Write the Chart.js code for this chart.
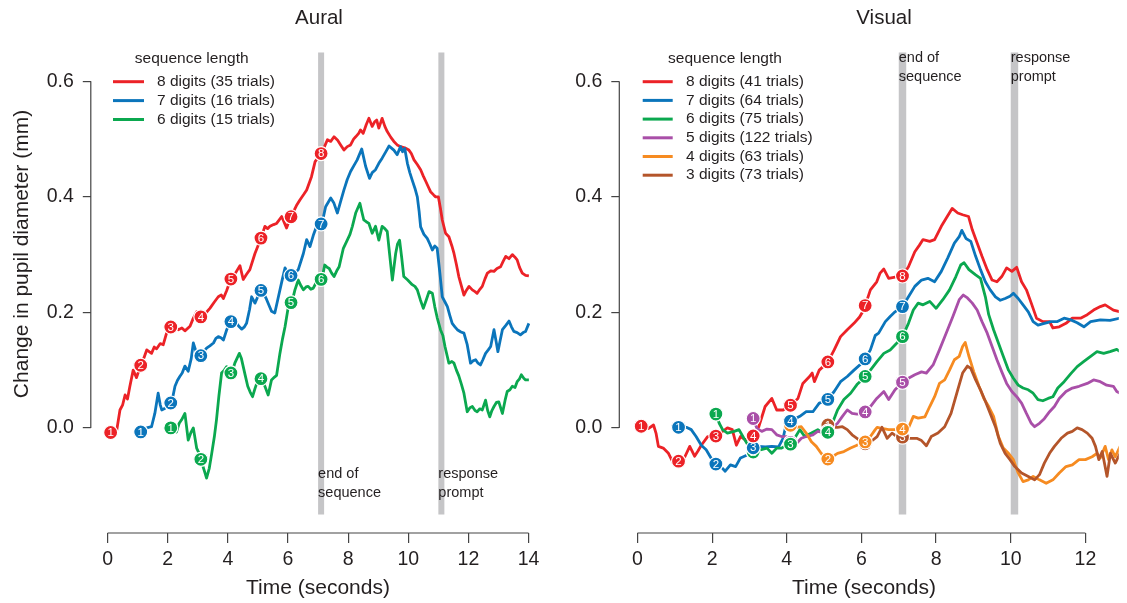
<!DOCTYPE html>
<html>
<head>
<meta charset="utf-8">
<script src="https://cdn.jsdelivr.net/npm/chart.js@4.4.1/dist/chart.umd.min.js"></script>
<style>
  html, body { margin: 0; padding: 0; background: #fff; }
  #wrap { position: relative; width: 1127px; height: 603px; overflow: hidden; }
  #auralChart { position: absolute; left: 0; top: 0; }
  #visualChart { position: absolute; left: 563px; top: 0; }
</style>
</head>
<body>
<div id="wrap">
  <canvas id="auralChart" width="563" height="603"></canvas>
  <canvas id="visualChart" width="564" height="603"></canvas>
</div>
<script>
// digit presentation times (s); a sequence of n digits uses the last n
const digitOnsets = [0.1, 1.1, 2.1, 3.1, 4.1, 5.1, 6.1, 7.1];
const yTickValues = [0, 0.2, 0.4, 0.6];
const auralTicks = [0, 2, 4, 6, 8, 10, 12, 14];
const visualTicks = [0, 2, 4, 6, 8, 10, 12];
const auralEvents = [7.0, 11.0];
const visualEvents = [7.0, 10.0];
const eventLabels = [['end of', 'sequence'], ['response', 'prompt']];
const auralDigits = [8, 7, 6];
const visualDigits = [8, 7, 6, 5, 4, 3];
const auralLegend = ['8 digits (35 trials)', '7 digits (16 trials)', '6 digits (15 trials)'];
const visualLegend = ['8 digits (41 trials)', '7 digits (64 trials)', '6 digits (75 trials)',
  '5 digits (122 trials)', '4 digits (63 trials)', '3 digits (73 trials)'];

// Aural traces [time, change in pupil diameter]
const aural8 = [[0.10,-0.008],[0.30,-0.005],[0.41,0.031],[0.50,0.040],[0.58,0.057],[0.66,0.050],[0.74,0.072],[0.85,0.100],[0.96,0.087],[1.11,0.110],[1.20,0.120],[1.30,0.135],[1.46,0.129],[1.55,0.140],[1.63,0.137],[1.75,0.146],[1.85,0.144],[1.96,0.164],[2.13,0.177],[2.25,0.175],[2.35,0.170],[2.47,0.173],[2.57,0.168],[2.74,0.176],[2.85,0.190],[2.96,0.201],[3.05,0.196],[3.13,0.190],[3.25,0.198],[3.40,0.207],[3.55,0.218],[3.68,0.227],[3.78,0.230],[3.85,0.224],[3.96,0.238],[4.09,0.257],[4.25,0.268],[4.40,0.281],[4.51,0.257],[4.62,0.266],[4.73,0.274],[4.90,0.302],[5.09,0.327],[5.23,0.349],[5.32,0.345],[5.40,0.349],[5.52,0.352],[5.62,0.354],[5.79,0.366],[5.88,0.355],[5.95,0.346],[6.05,0.360],[6.14,0.370],[6.28,0.385],[6.40,0.395],[6.52,0.404],[6.62,0.412],[6.78,0.435],[6.90,0.461],[7.00,0.468],[7.13,0.477],[7.31,0.499],[7.42,0.496],[7.53,0.504],[7.65,0.498],[7.75,0.490],[7.86,0.481],[7.97,0.487],[8.08,0.490],[8.18,0.500],[8.25,0.504],[8.35,0.510],[8.41,0.516],[8.50,0.510],[8.60,0.525],[8.69,0.536],[8.80,0.522],[8.88,0.530],[8.95,0.533],[9.02,0.519],[9.13,0.536],[9.22,0.522],[9.30,0.513],[9.42,0.503],[9.52,0.496],[9.63,0.490],[9.74,0.487],[9.88,0.485],[10.02,0.481],[10.10,0.475],[10.19,0.464],[10.30,0.456],[10.41,0.447],[10.50,0.436],[10.58,0.427],[10.66,0.418],[10.74,0.409],[10.85,0.403],[10.91,0.400],[11.00,0.400],[11.07,0.380],[11.13,0.360],[11.24,0.337],[11.35,0.331],[11.45,0.315],[11.52,0.302],[11.60,0.283],[11.68,0.262],[11.77,0.245],[11.85,0.230],[11.93,0.238],[12.02,0.245],[12.13,0.239],[12.22,0.236],[12.29,0.233],[12.38,0.240],[12.46,0.245],[12.55,0.258],[12.63,0.268],[12.75,0.272],[12.85,0.271],[12.95,0.276],[13.07,0.279],[13.15,0.288],[13.24,0.297],[13.35,0.293],[13.46,0.300],[13.54,0.296],[13.62,0.291],[13.70,0.278],[13.79,0.268],[13.90,0.264],[14.01,0.263]];
const aural7 = [[1.11,-0.007],[1.30,0.000],[1.46,0.002],[1.57,0.025],[1.68,0.060],[1.75,0.040],[1.80,0.031],[1.91,0.034],[2.00,0.040],[2.13,0.044],[2.24,0.072],[2.32,0.082],[2.40,0.089],[2.48,0.095],[2.57,0.107],[2.68,0.098],[2.78,0.120],[2.85,0.147],[2.96,0.129],[3.10,0.125],[3.20,0.132],[3.29,0.138],[3.40,0.142],[3.52,0.147],[3.60,0.155],[3.68,0.158],[3.77,0.156],[3.85,0.152],[3.96,0.170],[4.10,0.184],[4.20,0.185],[4.29,0.181],[4.38,0.175],[4.46,0.171],[4.55,0.175],[4.62,0.181],[4.72,0.205],[4.79,0.227],[4.90,0.216],[5.00,0.228],[5.12,0.240],[5.20,0.232],[5.29,0.222],[5.37,0.212],[5.45,0.202],[5.56,0.199],[5.68,0.227],[5.80,0.255],[5.90,0.277],[6.00,0.268],[6.12,0.263],[6.22,0.268],[6.34,0.274],[6.45,0.292],[6.51,0.302],[6.62,0.326],[6.73,0.314],[6.85,0.335],[6.95,0.349],[7.13,0.354],[7.25,0.383],[7.42,0.398],[7.52,0.390],[7.64,0.372],[7.75,0.392],[7.86,0.412],[7.97,0.430],[8.08,0.444],[8.20,0.455],[8.30,0.464],[8.45,0.483],[8.58,0.453],[8.71,0.432],[8.80,0.442],[8.91,0.447],[9.02,0.458],[9.13,0.467],[9.25,0.478],[9.36,0.488],[9.45,0.484],[9.52,0.481],[9.63,0.473],[9.74,0.487],[9.81,0.478],[9.88,0.484],[9.97,0.458],[10.05,0.442],[10.13,0.429],[10.22,0.415],[10.30,0.400],[10.36,0.375],[10.41,0.348],[10.52,0.335],[10.63,0.328],[10.72,0.318],[10.80,0.308],[10.88,0.315],[10.96,0.311],[11.05,0.268],[11.13,0.227],[11.22,0.218],[11.30,0.210],[11.38,0.195],[11.46,0.181],[11.55,0.175],[11.63,0.170],[11.75,0.166],[11.85,0.164],[11.96,0.144],[12.07,0.112],[12.15,0.116],[12.24,0.118],[12.32,0.112],[12.40,0.109],[12.48,0.118],[12.57,0.129],[12.66,0.135],[12.74,0.141],[12.85,0.170],[12.92,0.150],[12.98,0.132],[13.05,0.150],[13.13,0.170],[13.25,0.178],[13.35,0.185],[13.43,0.175],[13.51,0.167],[13.62,0.165],[13.73,0.161],[13.82,0.165],[13.90,0.167],[14.01,0.181]];
const aural6 = [[2.11,0.000],[2.20,0.003],[2.29,-0.007],[2.38,0.008],[2.46,0.014],[2.57,0.025],[2.68,-0.021],[2.77,-0.008],[2.85,0.000],[2.96,-0.035],[3.05,-0.045],[3.13,-0.060],[3.22,-0.075],[3.29,-0.087],[3.38,-0.070],[3.46,-0.045],[3.55,-0.015],[3.62,0.014],[3.70,0.055],[3.79,0.095],[3.88,0.100],[3.96,0.106],[4.05,0.098],[4.12,0.094],[4.23,0.112],[4.38,0.129],[4.45,0.120],[4.51,0.106],[4.58,0.090],[4.66,0.072],[4.74,0.062],[4.82,0.054],[4.90,0.068],[4.96,0.077],[5.05,0.083],[5.12,0.086],[5.23,0.072],[5.34,0.057],[5.45,0.083],[5.55,0.088],[5.62,0.091],[5.73,0.129],[5.82,0.155],[5.90,0.175],[6.01,0.210],[6.14,0.220],[6.23,0.239],[6.34,0.256],[6.43,0.246],[6.51,0.239],[6.60,0.244],[6.67,0.245],[6.76,0.240],[6.84,0.242],[6.95,0.253],[7.13,0.258],[7.22,0.282],[7.30,0.278],[7.37,0.276],[7.45,0.268],[7.53,0.262],[7.62,0.272],[7.70,0.279],[7.84,0.311],[7.97,0.325],[8.06,0.335],[8.14,0.349],[8.25,0.372],[8.39,0.389],[8.45,0.375],[8.52,0.360],[8.60,0.357],[8.69,0.354],[8.80,0.337],[8.91,0.349],[9.02,0.325],[9.13,0.349],[9.22,0.345],[9.30,0.340],[9.38,0.300],[9.47,0.256],[9.58,0.302],[9.64,0.318],[9.71,0.325],[9.78,0.295],[9.85,0.262],[9.98,0.256],[10.13,0.248],[10.22,0.245],[10.30,0.239],[10.40,0.222],[10.50,0.207],[10.60,0.222],[10.69,0.236],[10.80,0.233],[10.88,0.210],[10.96,0.191],[11.07,0.170],[11.15,0.160],[11.22,0.141],[11.35,0.112],[11.45,0.115],[11.52,0.112],[11.60,0.100],[11.68,0.090],[11.77,0.075],[11.85,0.060],[11.96,0.028],[12.05,0.035],[12.13,0.037],[12.22,0.030],[12.29,0.028],[12.38,0.033],[12.46,0.031],[12.57,0.048],[12.64,0.030],[12.71,0.019],[12.78,0.030],[12.85,0.037],[12.93,0.044],[13.01,0.045],[13.13,0.025],[13.22,0.048],[13.29,0.063],[13.38,0.066],[13.46,0.072],[13.55,0.070],[13.62,0.080],[13.70,0.085],[13.76,0.092],[13.84,0.086],[13.90,0.083],[14.01,0.083]];

// Visual traces
const visual8 = [[0.08,0.003],[0.20,0.002],[0.30,-0.001],[0.43,0.005],[0.50,-0.010],[0.56,-0.032],[0.69,-0.035],[0.83,-0.044],[0.96,-0.061],[1.09,-0.058],[1.18,-0.055],[1.27,-0.050],[1.40,-0.032],[1.53,-0.049],[1.62,-0.040],[1.71,-0.030],[1.88,-0.015],[2.08,-0.015],[2.28,-0.006],[2.41,0.000],[2.54,-0.003],[2.65,-0.030],[2.76,-0.015],[2.90,-0.021],[3.09,-0.015],[3.25,0.002],[3.42,0.037],[3.60,0.051],[3.73,0.031],[3.90,0.031],[4.08,0.038],[4.30,0.051],[4.43,0.077],[4.61,0.089],[4.68,0.095],[4.74,0.080],[4.87,0.100],[5.09,0.113],[5.27,0.135],[5.44,0.158],[5.62,0.170],[5.80,0.181],[5.95,0.192],[6.06,0.204],[6.24,0.239],[6.41,0.253],[6.50,0.268],[6.60,0.275],[6.73,0.259],[6.90,0.261],[7.10,0.263],[7.26,0.279],[7.43,0.305],[7.55,0.316],[7.65,0.326],[7.83,0.323],[7.96,0.326],[8.14,0.349],[8.27,0.363],[8.43,0.380],[8.58,0.372],[8.71,0.369],[8.87,0.366],[8.97,0.343],[9.10,0.320],[9.23,0.297],[9.37,0.274],[9.50,0.256],[9.63,0.253],[9.76,0.262],[9.89,0.277],[10.03,0.271],[10.16,0.278],[10.29,0.253],[10.42,0.239],[10.55,0.216],[10.69,0.190],[10.86,0.184],[11.04,0.184],[11.13,0.173],[11.30,0.175],[11.48,0.181],[11.65,0.190],[11.87,0.190],[12.05,0.196],[12.22,0.204],[12.40,0.210],[12.53,0.213],[12.75,0.204],[12.93,0.201]];
const visual7 = [[1.09,0.001],[1.31,0.001],[1.44,-0.003],[1.57,-0.015],[1.71,-0.030],[1.84,-0.038],[1.97,-0.052],[2.08,-0.062],[2.23,-0.067],[2.35,-0.075],[2.49,-0.064],[2.63,-0.067],[2.76,-0.052],[2.94,-0.047],[3.07,-0.035],[3.25,-0.032],[3.42,-0.033],[3.60,-0.032],[3.78,-0.033],[3.90,-0.018],[3.99,0.008],[4.17,0.014],[4.35,0.020],[4.52,0.028],[4.70,0.028],[4.87,0.043],[5.07,0.047],[5.27,0.063],[5.44,0.080],[5.62,0.089],[5.80,0.100],[6.06,0.115],[6.24,0.135],[6.37,0.160],[6.46,0.164],[6.64,0.184],[6.77,0.193],[6.90,0.201],[7.10,0.210],[7.26,0.227],[7.43,0.245],[7.61,0.256],[7.78,0.259],[7.96,0.253],[8.14,0.271],[8.31,0.294],[8.49,0.320],[8.62,0.331],[8.69,0.342],[8.80,0.328],[8.93,0.323],[9.06,0.297],[9.19,0.274],[9.32,0.253],[9.45,0.239],[9.59,0.227],[9.72,0.221],[9.85,0.224],[9.98,0.228],[10.07,0.233],[10.20,0.224],[10.33,0.213],[10.47,0.201],[10.60,0.184],[10.73,0.178],[10.90,0.181],[11.08,0.184],[11.25,0.184],[11.43,0.190],[11.61,0.187],[11.78,0.182],[11.96,0.175],[12.14,0.184],[12.40,0.187],[12.66,0.186],[12.93,0.190]];
const visual6 = [[2.10,0.024],[2.19,0.008],[2.28,-0.003],[2.41,-0.009],[2.59,-0.006],[2.72,-0.003],[2.85,-0.018],[2.98,-0.032],[3.09,-0.042],[3.29,-0.038],[3.47,-0.035],[3.60,-0.044],[3.73,-0.035],[3.86,-0.035],[3.99,-0.030],[4.08,-0.030],[4.21,-0.018],[4.35,-0.003],[4.48,-0.015],[4.66,-0.009],[4.83,-0.003],[4.96,-0.009],[5.09,-0.009],[5.22,0.008],[5.36,0.031],[5.53,0.049],[5.71,0.060],[5.88,0.075],[6.06,0.086],[6.24,0.100],[6.42,0.115],[6.60,0.129],[6.77,0.135],[6.95,0.147],[7.10,0.158],[7.26,0.181],[7.39,0.204],[7.52,0.216],[7.65,0.213],[7.83,0.219],[8.00,0.207],[8.18,0.222],[8.36,0.239],[8.53,0.262],[8.66,0.282],[8.75,0.286],[8.88,0.274],[9.06,0.265],[9.19,0.259],[9.32,0.227],[9.41,0.196],[9.54,0.170],[9.67,0.147],[9.80,0.124],[9.94,0.100],[10.07,0.086],[10.20,0.074],[10.33,0.069],[10.47,0.066],[10.60,0.060],[10.73,0.049],[10.86,0.047],[11.00,0.051],[11.13,0.054],[11.26,0.069],[11.43,0.080],[11.61,0.094],[11.78,0.106],[11.96,0.115],[12.14,0.124],[12.31,0.132],[12.49,0.129],[12.66,0.132],[12.84,0.136],[12.93,0.132]];
const visual5 = [[3.09,0.018],[3.20,-0.001],[3.33,-0.006],[3.47,-0.002],[3.60,-0.003],[3.73,-0.012],[3.86,-0.015],[3.99,-0.015],[4.08,-0.025],[4.26,-0.027],[4.39,-0.018],[4.52,-0.015],[4.70,-0.012],[4.83,-0.006],[4.96,-0.008],[5.09,-0.006],[5.22,0.000],[5.36,0.008],[5.49,0.020],[5.62,0.031],[5.75,0.025],[5.88,0.024],[6.06,0.025],[6.24,0.037],[6.41,0.051],[6.60,0.063],[6.73,0.049],[6.90,0.066],[7.10,0.079],[7.26,0.086],[7.43,0.092],[7.61,0.097],[7.74,0.095],[7.92,0.109],[8.09,0.135],[8.27,0.164],[8.45,0.193],[8.62,0.222],[8.73,0.230],[8.84,0.225],[8.97,0.216],[9.10,0.204],[9.23,0.184],[9.37,0.164],[9.50,0.141],[9.63,0.118],[9.76,0.097],[9.89,0.077],[10.03,0.063],[10.16,0.054],[10.29,0.043],[10.42,0.025],[10.55,0.008],[10.64,0.002],[10.77,0.008],[10.90,0.016],[11.04,0.028],[11.17,0.037],[11.30,0.051],[11.48,0.063],[11.65,0.069],[11.83,0.072],[12.05,0.077],[12.22,0.083],[12.40,0.080],[12.57,0.074],[12.75,0.072],[12.84,0.063],[12.93,0.060]];
const visual4 = [[4.08,0.005],[4.26,0.001],[4.39,0.002],[4.52,-0.009],[4.66,-0.024],[4.79,-0.032],[4.92,-0.044],[5.07,-0.055],[5.22,-0.050],[5.36,-0.044],[5.53,-0.041],[5.71,-0.035],[5.88,-0.030],[6.06,-0.027],[6.24,-0.015],[6.37,-0.003],[6.42,0.001],[6.55,-0.001],[6.73,-0.003],[6.90,-0.003],[7.10,-0.002],[7.26,0.000],[7.39,0.020],[7.52,0.017],[7.70,0.019],[7.83,0.037],[7.96,0.054],[8.09,0.077],[8.23,0.083],[8.36,0.100],[8.49,0.118],[8.62,0.124],[8.71,0.141],[8.78,0.148],[8.88,0.124],[9.01,0.097],[9.15,0.072],[9.28,0.051],[9.41,0.037],[9.54,0.020],[9.67,-0.015],[9.80,-0.035],[9.94,-0.044],[10.07,-0.055],[10.20,-0.078],[10.33,-0.093],[10.47,-0.090],[10.60,-0.084],[10.77,-0.090],[10.95,-0.096],[11.13,-0.090],[11.30,-0.078],[11.48,-0.067],[11.65,-0.064],[11.83,-0.055],[12.00,-0.055],[12.18,-0.050],[12.31,-0.044],[12.40,-0.052],[12.53,-0.032],[12.62,-0.055],[12.71,-0.038],[12.80,-0.050],[12.93,-0.032]];
const visual3 = [[5.07,0.006],[5.22,0.001],[5.36,0.001],[5.49,0.002],[5.62,-0.003],[5.75,-0.012],[5.88,-0.018],[6.08,-0.028],[6.25,-0.024],[6.42,-0.015],[6.55,0.001],[6.69,-0.018],[6.82,-0.009],[6.95,-0.015],[7.10,-0.016],[7.30,-0.018],[7.48,-0.018],[7.61,-0.022],[7.74,-0.031],[7.87,-0.015],[8.05,-0.009],[8.23,0.002],[8.40,0.025],[8.58,0.066],[8.71,0.095],[8.84,0.107],[8.93,0.103],[9.06,0.083],[9.19,0.066],[9.32,0.046],[9.45,0.025],[9.59,0.002],[9.72,-0.027],[9.85,-0.044],[9.98,-0.055],[10.11,-0.067],[10.29,-0.078],[10.47,-0.084],[10.64,-0.090],[10.77,-0.081],[10.90,-0.061],[11.04,-0.044],[11.17,-0.032],[11.35,-0.018],[11.52,-0.009],[11.65,-0.006],[11.78,0.000],[11.91,-0.003],[12.05,-0.009],[12.18,-0.018],[12.27,-0.032],[12.36,-0.055],[12.45,-0.041],[12.58,-0.084],[12.67,-0.044],[12.80,-0.061],[12.93,-0.044]];

// ---- styles ----
const seriesColors = { 8: '#EC2227', 7: '#0B75BB', 6: '#0BA84F', 5: '#A94FA8', 4: '#F68B21', 3: '#B4552A' };
const textColor = '#231F20';
const axisColor = '#444444';
const barColor = '#C5C5C7';
const fontFamily = "'Liberation Sans', Arial, Helvetica, sans-serif";
Chart.defaults.font.family = fontFamily;
Chart.defaults.color = textColor;

const panels = {
  aural: {
    title: 'Aural', series: [aural8, aural7, aural6], digits: auralDigits, legend: auralLegend,
    xTicks: auralTicks, events: auralEvents, xMin: -0.56, xMax: 14.56,
    yAxisWidth: 90.8, padRight: 17.6, showYTitle: true,
    titlePos: [319, 18], xTitlePos: [318, 588], yTitlePos: [22, 254],
    legendPos: { line1: 113, line2: 144, text: 157, titleX: 191.7, titleY: 58.3, row0: 81.7, step: 18.9 },
    eventTextY: [474, 493]
  },
  visual: {
    title: 'Visual', series: [visual8, visual7, visual6, visual5, visual4, visual3], digits: visualDigits, legend: visualLegend,
    xTicks: visualTicks, events: visualEvents, xMin: -0.487, xMax: 12.895,
    yAxisWidth: 56.3, padRight: 0, showYTitle: false,
    titlePos: [321, 18], xTitlePos: [301, 588], yTitlePos: null,
    legendPos: { line1: 79.7, line2: 109.7, text: 123, titleX: 162, titleY: 58.3, row0: 81.7, step: 18.7 },
    eventTextY: [58.3, 77.3]
  }
};

// linear interpolation of a trace at time t (so the digit markers sit on the line)
function valueAt(points, t) {
  if (t <= points[0][0]) return points[0][1];
  for (var i = 1; i < points.length; i++) {
    if (points[i][0] >= t) {
      var a = points[i - 1], b = points[i];
      return a[1] + (b[1] - a[1]) * (t - a[0]) / (b[0] - a[0]);
    }
  }
  return points[points.length - 1][1];
}

// grey bars, event labels, axis lines, digit numbers, legend and titles
const panelDecor = {
  id: 'panelDecor',
  beforeDatasetsDraw(chart, args, opts) {
    var p = panels[opts.panel];
    var ctx = chart.ctx, xs = chart.scales.x, ys = chart.scales.y, area = chart.chartArea;
    ctx.save();
    ctx.fillStyle = barColor;
    p.events.forEach(function (t) {
      var x1 = xs.getPixelForValue(t), x2 = xs.getPixelForValue(t + 0.2);
      var y1 = ys.getPixelForValue(0.65), y2 = ys.getPixelForValue(-0.15);
      ctx.fillRect(x1, y1, x2 - x1, y2 - y1);
    });
    ctx.fillStyle = textColor;
    ctx.font = '14.5px ' + fontFamily;
    ctx.textAlign = 'left';
    ctx.textBaseline = 'middle';
    p.events.forEach(function (t, i) {
      var x = xs.getPixelForValue(t);
      ctx.fillText(eventLabels[i][0], x, p.eventTextY[0]);
      ctx.fillText(eventLabels[i][1], x, p.eventTextY[1]);
    });
    // axis lines only span the tick range, like R's axis()
    ctx.strokeStyle = axisColor;
    ctx.lineWidth = 1.2;
    ctx.beginPath();
    ctx.moveTo(xs.getPixelForValue(p.xTicks[0]), area.bottom);
    ctx.lineTo(xs.getPixelForValue(p.xTicks[p.xTicks.length - 1]), area.bottom);
    ctx.moveTo(area.left, ys.getPixelForValue(yTickValues[0]));
    ctx.lineTo(area.left, ys.getPixelForValue(yTickValues[yTickValues.length - 1]));
    ctx.stroke();
    ctx.restore();
  },
  afterDatasetDraw(chart, args) {
    var ds = chart.data.datasets[args.index];
    if (!ds.digitMarks) return;
    var ctx = chart.ctx;
    ctx.save();
    ctx.fillStyle = '#ffffff';
    ctx.font = '11.5px ' + fontFamily;
    ctx.textAlign = 'center';
    ctx.textBaseline = 'middle';
    args.meta.data.forEach(function (el, j) {
      ctx.fillText(String(j + 1), el.x, el.y + 0.5);
    });
    ctx.restore();
  },
  afterDraw(chart, args, opts) {
    var p = panels[opts.panel];
    var ctx = chart.ctx, L = p.legendPos;
    ctx.save();
    ctx.fillStyle = textColor;
    ctx.textBaseline = 'middle';
    // legend
    ctx.font = '15.5px ' + fontFamily;
    ctx.textAlign = 'center';
    ctx.fillText('sequence length', L.titleX, L.titleY);
    ctx.textAlign = 'left';
    p.legend.forEach(function (label, i) {
      var y = L.row0 + i * L.step;
      ctx.strokeStyle = seriesColors[p.digits[i]];
      ctx.lineWidth = 3;
      ctx.beginPath();
      ctx.moveTo(L.line1, y);
      ctx.lineTo(L.line2, y);
      ctx.stroke();
      ctx.fillText(label, L.text, y);
    });
    // titles
    ctx.textAlign = 'center';
    ctx.font = '20.5px ' + fontFamily;
    ctx.fillText(p.title, p.titlePos[0], p.titlePos[1]);
    ctx.font = '21px ' + fontFamily;
    ctx.fillText('Time (seconds)', p.xTitlePos[0], p.xTitlePos[1]);
    if (p.showYTitle) {
      ctx.translate(p.yTitlePos[0], p.yTitlePos[1]);
      ctx.rotate(-Math.PI / 2);
      ctx.fillText('Change in pupil diameter (mm)', 0, 0);
    }
    ctx.restore();
  }
};

function buildChart(canvasId, key) {
  var p = panels[key];
  var datasets = [];
  p.series.forEach(function (pts, i) {
    var color = seriesColors[p.digits[i]];
    var onsets = digitOnsets.slice(digitOnsets.length - p.digits[i]);
    // digit markers, drawn above every trace
    datasets.push({
      digitMarks: true,
      data: onsets.map(function (t) { return { x: t, y: valueAt(pts, t) }; }),
      showLine: false,
      pointRadius: 7,
      pointHoverRadius: 7,
      pointBackgroundColor: color,
      pointBorderColor: '#ffffff',
      pointBorderWidth: 1.2,
      order: 0
    });
    // the trace itself; longer sequences underneath
    datasets.push({
      data: pts.map(function (q) { return { x: q[0], y: q[1] }; }),
      borderColor: color,
      borderWidth: 2.8,
      borderJoinStyle: 'round',
      pointRadius: 0,
      tension: 0,
      fill: false,
      order: 20 - i
    });
  });

  return new Chart(document.getElementById(canvasId), {
    type: 'line',
    data: { datasets: datasets },
    options: {
      responsive: false,
      animation: false,
      events: [],
      layout: { padding: { left: 0, right: p.padRight, top: 34, bottom: 0 } },
      plugins: {
        legend: { display: false },
        tooltip: { enabled: false },
        title: { display: false },
        panelDecor: { panel: key }
      },
      scales: {
        x: {
          type: 'linear',
          min: p.xMin,
          max: p.xMax,
          afterBuildTicks: function (s) { s.ticks = p.xTicks.map(function (v) { return { value: v }; }); },
          afterFit: function (s) { s.height = 70; },
          border: { display: false },
          grid: { drawOnChartArea: false, tickLength: 10, color: axisColor, lineWidth: 1.2 },
          ticks: { font: { size: 19.5 }, color: textColor, padding: 5, maxRotation: 0, autoSkip: false,
                   callback: function (v) { return String(v); } }
        },
        y: {
          type: 'linear',
          min: -0.182,
          max: 0.682,
          afterBuildTicks: function (s) { s.ticks = yTickValues.map(function (v) { return { value: v }; }); },
          afterFit: function (s) { s.width = p.yAxisWidth; },
          border: { display: false },
          grid: { drawOnChartArea: false, tickLength: 8, color: axisColor, lineWidth: 1.2 },
          ticks: { font: { size: 19.5 }, color: textColor, padding: 9,
                   callback: function (v) { return v.toFixed(1); } }
        }
      }
    },
    plugins: [panelDecor]
  });
}

buildChart('auralChart', 'aural');
buildChart('visualChart', 'visual');
</script>
</body>
</html>
